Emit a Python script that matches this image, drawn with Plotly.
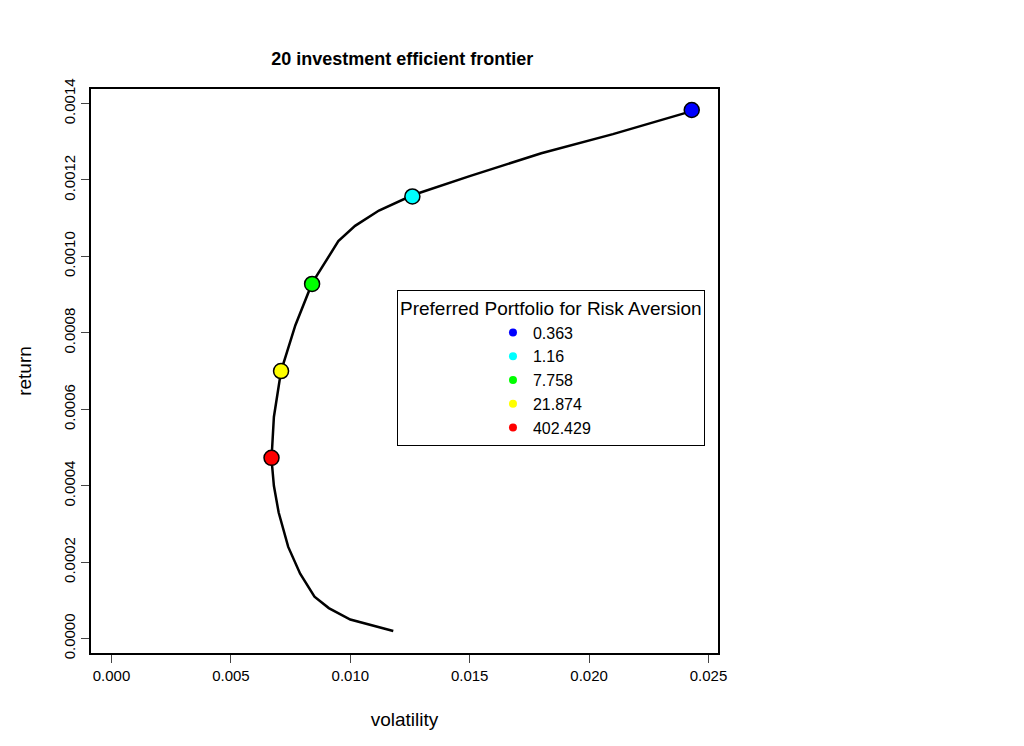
import plotly.graph_objects as go

# efficient frontier
frontier_vol = [0.0118, 0.0100, 0.0091, 0.0085, 0.0079, 0.0074, 0.0070, 0.0068, 0.0067,
                0.0068, 0.0071, 0.0077, 0.0084, 0.0090, 0.0095, 0.0102, 0.0112, 0.0126,
                0.0150, 0.0180, 0.0210, 0.0243]
frontier_ret = [0.00002, 0.00005, 0.00008, 0.00011, 0.00017, 0.00024, 0.00033, 0.00040, 0.00047,
                0.00058, 0.00070, 0.00082, 0.00093, 0.00099, 0.00104, 0.00108, 0.00112, 0.00116,
                0.00121, 0.00127, 0.00132, 0.00138]

aversion = ["0.363", "1.16", "7.758", "21.874", "402.429"]
pref_vol = [0.0243, 0.0126, 0.0084, 0.0071, 0.0067]
pref_ret = [0.001383, 0.001157, 0.000928, 0.000700, 0.000473]
colors = ["#0000ff", "#00ffff", "#00ff00", "#ffff00", "#ff0000"]

fig = go.Figure()
fig.add_trace(go.Scatter(x=frontier_vol, y=frontier_ret, mode="lines",
                         line=dict(color="black", width=2.5), showlegend=False))
for vx, ry, c in zip(pref_vol, pref_ret, colors):
    fig.add_trace(go.Scatter(x=[vx], y=[ry], mode="markers", showlegend=False,
                             marker=dict(color=c, size=15, line=dict(color="black", width=1.5))))
# legend entries: small plain dots as in R's legend
for lab, c in zip(aversion, colors):
    fig.add_trace(go.Scatter(x=[None], y=[None], mode="markers", name=lab,
                             marker=dict(color=c, size=8)))

fig.update_layout(
    width=1024, height=746, plot_bgcolor="white", paper_bgcolor="white",
    margin=dict(l=83, r=314, t=81, b=101),
    font=dict(family="Liberation Sans, Arial", size=16, color="black"),
    title=dict(text="<b>20 investment efficient frontier</b>", x=0.385, xanchor="center",
               y=0.94, font=dict(size=18)),
    legend=dict(title=dict(text="Preferred Portfolio for Risk Aversion", side="top"),
                x=0.488, y=0.644, xanchor="left", yanchor="top",
                bordercolor="black", borderwidth=1, bgcolor="white",
                font=dict(size=16), indentation=95),
)
fig.update_xaxes(title=dict(text="volatility", standoff=30), range=[-0.00086, 0.0254],
                 tickvals=[0, 0.005, 0.01, 0.015, 0.02, 0.025], tickformat=".3f",
                 tickfont=dict(size=15),
                 showgrid=False, zeroline=False, showline=True, mirror=True,
                 linecolor="black", linewidth=1.5, ticks="outside", ticklen=8)
fig.update_yaxes(title=dict(text="return", standoff=25), range=[-0.0000375, 0.001438],
                 tickvals=[0, 0.0002, 0.0004, 0.0006, 0.0008, 0.001, 0.0012, 0.0014],
                 tickformat=".4f", tickangle=-90, tickfont=dict(size=15),
                 showgrid=False, zeroline=False, showline=True, mirror=True,
                 linecolor="black", linewidth=1.5, ticks="outside", ticklen=8)

fig.write_html("out.html")
